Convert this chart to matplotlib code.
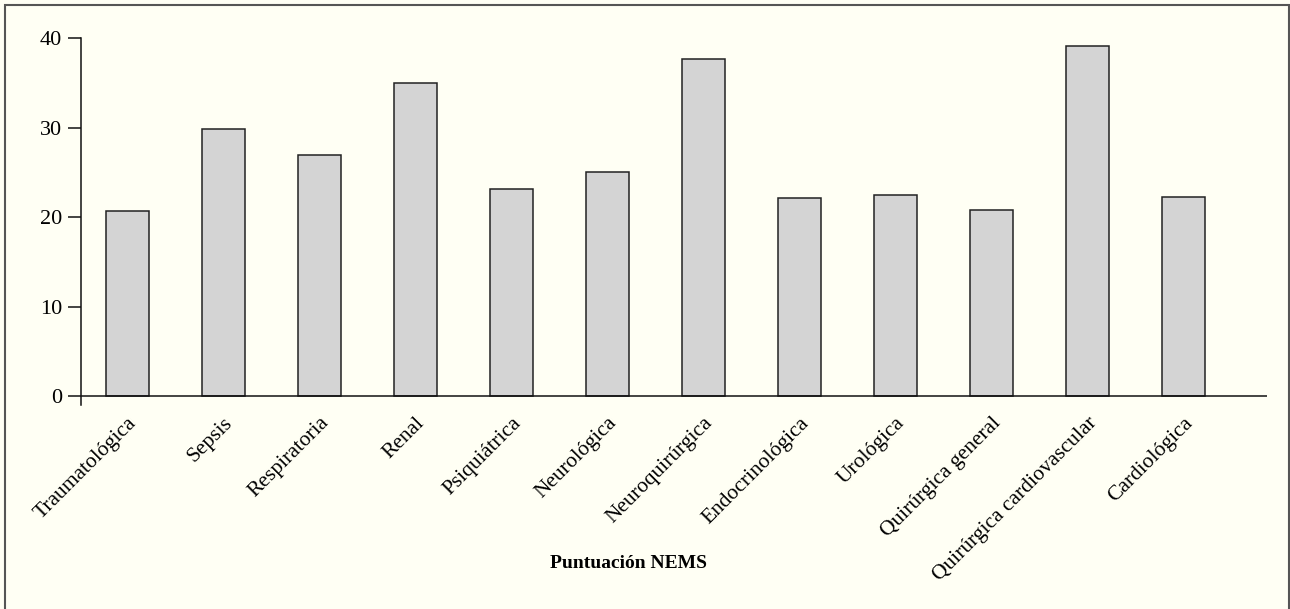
import matplotlib.pyplot as plt
from matplotlib.patches import Rectangle

# Data
categorias = ["Traumatológica", "Sepsis", "Respiratoria", "Renal", "Psiquiátrica",
              "Neurológica", "Neuroquirúrgica", "Endocrinológica", "Urológica",
              "Quirúrgica general", "Quirúrgica cardiovascular", "Cardiológica"]
puntuacion = [20.7, 29.9, 26.9, 35.0, 23.1, 25.0, 37.7, 22.2, 22.5, 20.8, 39.1, 22.3]
yticks = [0, 10, 20, 30, 40]

plt.rcParams['font.family'] = ['Liberation Serif', 'DejaVu Serif']
bg = '#fffff4'

fig = plt.figure(figsize=(12.9, 6.09), dpi=100, facecolor=bg)
ax = fig.add_axes([81 / 1290, 1 - 405.3 / 609, (1267 - 81) / 1290, (405.3 - 38) / 609])
ax.set_facecolor(bg)

x = list(range(len(categorias)))
ax.bar(x, puntuacion, width=0.45, color='#d4d4d4', edgecolor='#222222', linewidth=1.1)
ax.axhline(0, color='#111111', linewidth=1.1)

ax.set_xlim(-0.484, 11.87)
ax.set_ylim(-0.99, 40)
ax.set_yticks(yticks)
ax.set_xticks(x)
ax.set_xticklabels(categorias, rotation=45, ha='right', va='top',
                   rotation_mode='anchor', fontsize=15.5)
ax.tick_params(axis='x', length=0, pad=6)
ax.tick_params(axis='y', length=9.5, width=1.1, pad=4, labelsize=16, color='#111111')

for s in ['top', 'right', 'bottom']:
    ax.spines[s].set_visible(False)
ax.spines['left'].set_linewidth(1.1)
ax.spines['left'].set_color('#111111')

fig.text(629 / 1290, 1 - 564 / 609, "Puntuación NEMS", ha='center', va='center',
         fontsize=14, fontweight='bold')

# outer frame of the figure (bottom edge falls off the image)
fig.patches.append(Rectangle((5 / 1290, -0.05), 1284 / 1290, 1.05 - 5 / 609,
                             transform=fig.transFigure, fill=False,
                             edgecolor='#555555', linewidth=1.5))

fig.savefig("out.png", dpi=100, facecolor=bg)
